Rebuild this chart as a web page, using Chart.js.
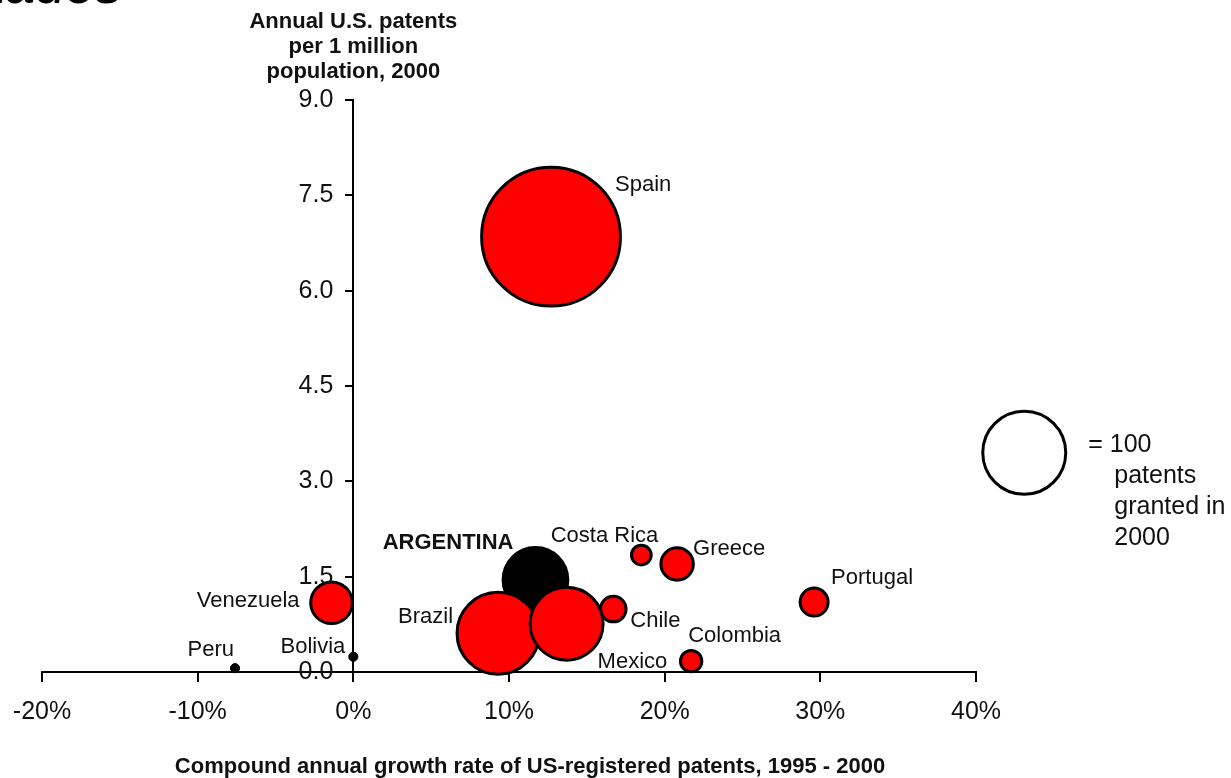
<!DOCTYPE html>
<html>
<head>
<meta charset="utf-8">
<title>Annual U.S. patents vs growth rate</title>
<script src="https://cdn.jsdelivr.net/npm/chart.js@4.4.1/dist/chart.umd.min.js"></script>
<style>
  html, body { margin: 0; padding: 0; background: #fff; }
  #wrap { width: 1231px; height: 778px; position: relative; }
</style>
</head>
<body>
<div id="wrap"><canvas id="chart"></canvas></div>
<script>
// Data
const countries = ['Spain', 'ARGENTINA', 'Costa Rica', 'Greece', 'Portugal', 'Chile',
                   'Brazil', 'Mexico', 'Colombia', 'Venezuela', 'Peru', 'Bolivia'];
// Compound annual growth rate of US-registered patents 1995-2000, %
const growthRate = [12.7, 11.7, 18.5, 20.8, 29.6, 16.7, 9.3, 13.7, 21.7, -1.4, -7.6, 0.0];
// Annual U.S. patents per 1 million population, 2000
const patentsPerMillion = [6.85, 1.45, 1.84, 1.70, 1.10, 0.99, 0.61, 0.76, 0.17, 1.09, 0.06, 0.24];
// Patents granted in 2000 (bubble area)
const patents2000 = [272, 62, 7, 17, 13, 11, 98, 78, 8, 27, 2, 2];
const highlighted = ['ARGENTINA', 'Peru', 'Bolivia'];

// axis ranges and tick steps
const xRange = [-20, 40];
const xStep = 10;
const yRange = [0, 9];
const yStep = 1.5;

// size key
const keyPatents = 100;
const keyText = ['= 100', 'patents', 'granted in', '2000'];

const yTitle = ['Annual U.S. patents', 'per 1 million', 'population, 2000'];
const xTitle = 'Compound annual growth rate of US-registered patents, 1995 - 2000';

// label placement next to each bubble (pixels from centre)
const labelPlacement = [
    { dx: 64, dy: -52, align: 'left' },
    { dx: -22, dy: -37, align: 'right', bold: true },
    { dx: 17, dy: -19, align: 'right' },
    { dx: 16, dy: -15, align: 'left' },
    { dx: 17, dy: -24, align: 'left' },
    { dx: 17, dy: 12, align: 'left' },
    { dx: -45, dy: -16, align: 'right' },
    { dx: 31, dy: 38, align: 'left' },
    { dx: -3, dy: -25, align: 'left' },
    { dx: -32, dy: -2, align: 'right' },
    { dx: -1, dy: -18, align: 'right' },
    { dx: -8, dy: -10, align: 'right' }
];

const FONT = '"Liberation Sans", Arial, sans-serif';
const KEY_RADIUS = 43;   // outer radius of the 100-patent circle

function radiusFor(p) {
    return KEY_RADIUS * Math.sqrt(p / keyPatents);
}

// the plot area is set by layout padding only
function noOverflow(scale) {
    scale.paddingLeft = 0;
    scale.paddingRight = 0;
    scale.paddingTop = 0;
    scale.paddingBottom = 0;
}

const annotations = {
    id: 'annotations',
    afterDatasetsDraw(chart) {
        const ctx = chart.ctx;
        const pts = chart.getDatasetMeta(0).data;
        const area = chart.chartArea;
        const xs = chart.scales.x;
        const ys = chart.scales.y;
        const x0 = xs.getPixelForValue(0);
        ctx.save();
        ctx.fillStyle = '#111';
        ctx.textBaseline = 'middle';

        // y tick labels, left of the axis that crosses at 0%
        ctx.font = '25px ' + FONT;
        ctx.textAlign = 'right';
        ys.ticks.forEach(t => {
            ctx.fillText(t.value.toFixed(1), x0 - 20, ys.getPixelForValue(t.value));
        });

        countries.forEach((name, i) => {
            const p = labelPlacement[i];
            ctx.font = (p.bold ? 'bold ' : '') + '22px ' + FONT;
            ctx.textAlign = p.align;
            ctx.fillText(name, pts[i].x + p.dx, pts[i].y + p.dy);
        });

        // key text
        const key = chart.getDatasetMeta(1).data[0];
        ctx.font = '25px ' + FONT;
        ctx.textAlign = 'left';
        keyText.forEach((t, i) => {
            const x = i === 0 ? key.x + 64 : key.x + 90;
            ctx.fillText(t, x, key.y - 8 + i * 31);
        });

        // axis titles
        ctx.font = 'bold 22px ' + FONT;
        ctx.textAlign = 'center';
        yTitle.forEach((t, i) => ctx.fillText(t, x0, area.top - 78 + i * 25));
        ctx.fillText(xTitle, (area.left + area.right) / 2 + 21, area.bottom + 95);

        // cut-off heading at the top of the slide
        ctx.font = 'italic 54px ' + FONT;
        ctx.textAlign = 'right';
        ctx.textBaseline = 'alphabetic';
        ctx.fillStyle = '#000';
        ctx.fillText('Resultados', 122, 3);
        ctx.restore();
    }
};

new Chart(document.getElementById('chart'), {
    type: 'bubble',
    data: {
        datasets: [{
            label: 'Countries',
            data: countries.map((c, i) => ({
                x: growthRate[i],
                y: patentsPerMillion[i],
                r: Math.max(radiusFor(patents2000[i]) - 1.5, 3)
            })),
            backgroundColor: countries.map(c => highlighted.includes(c) ? '#000000' : '#ff0000'),
            borderColor: '#000000',
            borderWidth: countries.map(c => (c === 'Peru' || c === 'Bolivia') ? 1 : 3),
            clip: false
        }, {
            label: 'Key',
            data: [{ x: 43.1, y: 3.45, r: radiusFor(keyPatents) - 1.5 }],
            backgroundColor: '#ffffff',
            borderColor: '#000000',
            borderWidth: 3,
            hoverRadius: 80,   // keeps the key drawn outside the plot area
            clip: false
        }]
    },
    options: {
        responsive: true,
        maintainAspectRatio: false,
        animation: false,
        events: [],
        layout: {
            autoPadding: false,   // big bubbles would otherwise push the plot area in
            padding: { left: 42, right: 255, top: 100, bottom: 36 }
        },
        plugins: {
            legend: { display: false },
            tooltip: { enabled: false }
        },
        scales: {
            x: {
                type: 'linear',
                min: xRange[0],
                max: xRange[1],
                position: 'bottom',
                afterFit: noOverflow,
                ticks: {
                    stepSize: xStep,
                    callback: v => v + '%',
                    font: { size: 25, family: FONT },
                    color: '#111',
                    padding: 15
                },
                grid: { drawOnChartArea: false, drawTicks: true, tickLength: 10, color: '#000', lineWidth: 2 },
                border: { display: true, color: '#000', width: 2 }
            },
            y: {
                type: 'linear',
                min: yRange[0],
                max: yRange[1],
                position: { x: 0 },
                afterFit: noOverflow,
                ticks: { stepSize: yStep, display: false },
                grid: { drawOnChartArea: false, drawTicks: true, tickLength: 7, color: '#000', lineWidth: 2 },
                border: { display: true, color: '#000', width: 2 }
            }
        }
    },
    plugins: [annotations]
});
</script>
</body>
</html>
